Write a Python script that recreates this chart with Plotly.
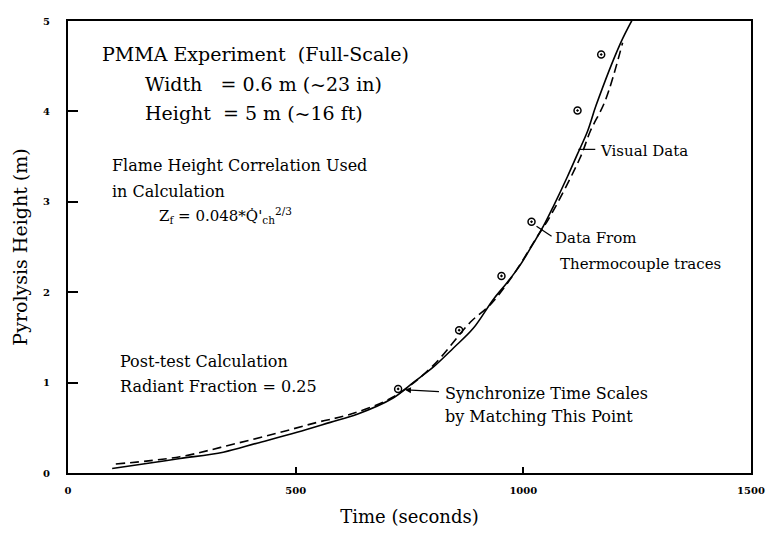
import plotly.graph_objects as go

# calculated pyrolysis height (solid)
calc_time = [97, 180, 246, 341, 415, 503, 576, 635, 714, 758, 802, 846, 890,
             934, 965, 993, 1022, 1044, 1066, 1097, 1119, 1141, 1160, 1213, 1240]
calc_height = [0.05, 0.11, 0.16, 0.23, 0.33, 0.45, 0.56, 0.65, 0.83, 1.00, 1.17,
               1.38, 1.60, 1.92, 2.11, 2.30, 2.54, 2.73, 2.95, 3.28, 3.53, 3.78,
               4.07, 4.75, 5.02]

# visual data (dashed)
visual_time = [105, 246, 356, 459, 547, 620, 714, 800, 884, 927, 975, 1030,
               1059, 1125, 1147, 1180, 1218]
visual_height = [0.10, 0.18, 0.31, 0.44, 0.56, 0.65, 0.84, 1.18, 1.67, 1.86,
                 2.17, 2.61, 2.84, 3.49, 3.78, 4.12, 4.76]

# thermocouple data (markers)
tc_time = [725, 859, 952, 1018, 1119, 1171]
tc_height = [0.93, 1.58, 2.18, 2.78, 4.01, 4.63]

x_ticks = [0, 500, 1000, 1500]
y_ticks = [0, 1, 2, 3, 4, 5]

serif = "DejaVu Serif"

fig = go.Figure()

fig.add_trace(go.Scatter(
    x=calc_time, y=calc_height, mode="lines", line_shape="spline",
    line=dict(color="black", width=1.6), showlegend=False,
))
fig.add_trace(go.Scatter(
    x=visual_time, y=visual_height, mode="lines", line_shape="spline",
    line=dict(color="black", width=1.6, dash="9px,5px"), showlegend=False,
))
fig.add_trace(go.Scatter(
    x=tc_time, y=tc_height, mode="markers",
    marker=dict(symbol="circle-open-dot", size=7, color="black", line=dict(width=1.5)),
    showlegend=False,
))

texts = [
    (70, 4.63, "PMMA Experiment  (Full-Scale)", 19),
    (165, 4.30, "Width   = 0.6 m (~23 in)", 19),
    (165, 3.98, "Height  = 5 m (~16 ft)", 19),
    (92, 3.40, "Flame Height Correlation Used", 16),
    (92, 3.11, "in Calculation", 16),
    (195, 2.85, "Z<sub>f</sub> = 0.048*Q\u0307'<sub>ch</sub><sup>2/3</sup>", 15),
    (110, 1.23, "Post-test Calculation", 16),
    (110, 0.96, "Radiant Fraction = 0.25", 16),
    (824, 0.88, "Synchronize Time Scales", 16),
    (824, 0.63, "by Matching This Point", 16),
    (1163, 3.56, "Visual Data", 15),
    (1066, 2.60, "Data From", 15),
    (1076, 2.31, "Thermocouple traces", 15),
]
for x, y, t, s in texts:
    fig.add_annotation(
        x=x, y=y, text=t, showarrow=False, xanchor="left", yanchor="middle",
        font=dict(family=serif, size=s, color="black"),
    )

# arrow to the synchronised point
fig.add_annotation(
    x=740, y=0.92, ax=818, ay=0.90, axref="x", ayref="y", text="",
    showarrow=True, arrowhead=2, arrowsize=1, arrowwidth=1.2, arrowcolor="black",
)
# leader lines
fig.add_shape(type="line", x0=1121, y0=3.58, x1=1158, y1=3.58,
              line=dict(color="black", width=1.2))
fig.add_shape(type="line", x0=1029, y0=2.73, x1=1062, y1=2.62,
              line=dict(color="black", width=1.2))

fig.update_layout(
    width=771,
    height=534,
    margin=dict(l=60, r=28, t=7, b=69),
    plot_bgcolor="white",
    paper_bgcolor="white",
    xaxis=dict(
        range=[0, 1500], tickvals=x_ticks, ticktext=[str(v) for v in x_ticks],
        showgrid=False, zeroline=False, showline=True, mirror=True,
        linecolor="black", linewidth=2, ticks="inside", ticklen=6,
        tickcolor="black", tickwidth=1.5, ticklabelstandoff=7,
        tickfont=dict(family=serif, size=10, color="black", weight="bold"),
        title=dict(text="Time (seconds)", standoff=15,
                   font=dict(family=serif, size=18, color="black")),
    ),
    yaxis=dict(
        range=[0, 5], tickvals=y_ticks, ticktext=[str(v) for v in y_ticks],
        showgrid=False, zeroline=False, showline=True, mirror=True,
        linecolor="black", linewidth=2, ticks="inside", ticklen=10,
        tickcolor="black", tickwidth=1.5, ticklabelstandoff=14,
        tickfont=dict(family=serif, size=10, color="black", weight="bold"),
        title=dict(text="Pyrolysis Height (m)", standoff=10,
                   font=dict(family=serif, size=19, color="black")),
    ),
)

fig.write_html("out.html")
